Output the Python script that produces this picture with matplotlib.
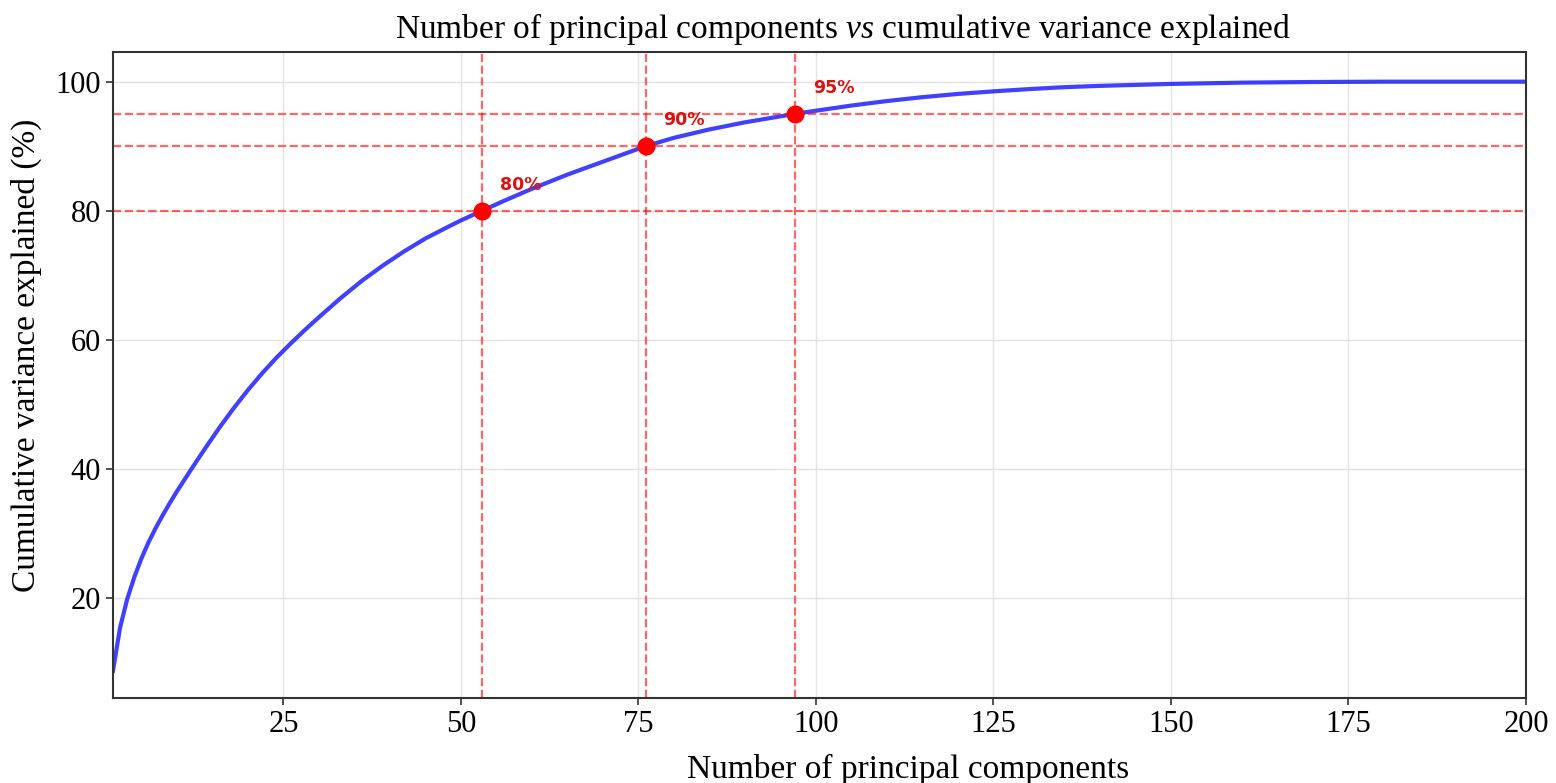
import matplotlib
matplotlib.use('Agg')
import matplotlib.pyplot as plt

# cumulative explained variance
n_components = [1, 2, 3, 4, 5, 6, 7, 8, 9, 10, 12, 14, 16, 18, 20, 22, 24, 26,
                28, 30, 33, 36, 39, 42, 45, 48, 50, 53, 56, 60, 65, 70, 76, 80,
                85, 90, 97, 100, 105, 110, 115, 120, 125, 130, 135, 140, 145,
                150, 160, 170, 180, 200]
cum_variance = [8.7, 15.4, 19.8, 23.2, 26.1, 28.6, 30.8, 32.8, 34.7, 36.5,
                39.9, 43.2, 46.4, 49.4, 52.2, 54.8, 57.2, 59.4, 61.5, 63.5,
                66.4, 69.1, 71.5, 73.7, 75.7, 77.4, 78.5, 80.0, 81.5, 83.4,
                85.6, 87.6, 90.0, 91.3, 92.6, 93.7, 95.0, 95.5, 96.3, 97.0,
                97.6, 98.1, 98.5, 98.85, 99.15, 99.35, 99.5, 99.65, 99.85,
                99.95, 100.0, 100.0]

thresholds = [80, 90, 95]
threshold_n = [53, 76, 97]
threshold_labels = ['80%', '90%', '95%']

plt.rcParams['font.family'] = ['Liberation Serif', 'DejaVu Serif']
plt.rcParams['mathtext.fontset'] = 'custom'
plt.rcParams['mathtext.rm'] = 'Liberation Serif'
plt.rcParams['mathtext.it'] = 'Liberation Serif:italic'

fig = plt.figure(figsize=(15.56, 7.83), dpi=100)
ax = fig.add_axes([0.0726, 0.1086, 0.9081, 0.825])

ax.grid(True, color='#dddddd', linewidth=1, alpha=0.8)
ax.set_axisbelow(True)

ax.plot(n_components, cum_variance, color='blue', alpha=0.75, linewidth=3)

for t, n, lab in zip(thresholds, threshold_n, threshold_labels):
    ax.axhline(t, color='red', linestyle='--', linewidth=1.6, alpha=0.6)
    ax.axvline(n, color='red', linestyle='--', linewidth=1.6, alpha=0.6)
    ax.plot(n, t, 'o', color='red', markersize=12, zorder=5)
    ax.annotate(lab, (n, t), xytext=(13, 15), textcoords='offset points',
                color='#dd1111', fontsize=12.5, fontweight='bold',
                family='DejaVu Sans')

ax.set_xlim(1, 200)
ax.set_ylim(4.5, 104.6)
ax.set_xticks([25, 50, 75, 100, 125, 150, 175, 200])
ax.set_yticks([20, 40, 60, 80, 100])
ax.tick_params(labelsize=22, length=5, width=1.2, color='#333333')

for s in ax.spines.values():
    s.set_color('#333333')
    s.set_linewidth(1.5)

ax.set_xlabel('Number of principal components', fontsize=24)
ax.xaxis.set_label_coords(0.563, -0.087)
ax.set_ylabel('Cumulative variance explained (%)', fontsize=24)
ax.yaxis.set_label_coords(-0.05, 0.531)
ax.set_title('Number of principal components $\\it{vs}$ cumulative variance explained',
             fontsize=24, x=0.517, pad=10)

fig.savefig('out.png', dpi=100)
